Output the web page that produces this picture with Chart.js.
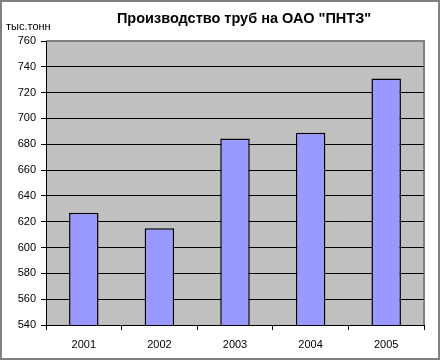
<!DOCTYPE html>
<html>
<head>
<meta charset="utf-8">
<script src="https://cdn.jsdelivr.net/npm/chart.js@4/dist/chart.umd.min.js"></script>
<style>
    html, body { margin: 0; padding: 0; background: #fff; }
    #wrap { position: relative; width: 441px; height: 361px; }
</style>
</head>
<body>
<div id="wrap"><canvas id="chart" width="441" height="361"></canvas></div>
<script>
const years = ['2001', '2002', '2003', '2004', '2005'];
const production = [627, 615, 684.5, 689, 731];
const yMin = 540;
const yMax = 760;
const yStep = 20;
const chartTitle = 'Производство труб на ОАО "ПНТЗ"';
const unitLabel = 'тыс.тонн';

// plot background, outer frame and titles (Excel-like look)
const excelFrame = {
    id: 'excelFrame',
    beforeDraw(chart) {
        const ctx = chart.ctx;
        const a = chart.chartArea;
        ctx.save();
        ctx.fillStyle = '#c0c0c0';
        ctx.fillRect(a.left, a.top, a.right - a.left, a.bottom - a.top);
        ctx.strokeStyle = '#808080';
        ctx.lineWidth = 2;
        ctx.beginPath();
        ctx.moveTo(a.left, a.top);
        ctx.lineTo(a.right, a.top);
        ctx.lineTo(a.right, a.bottom);
        ctx.stroke();
        ctx.restore();
    },
    afterDraw(chart) {
        const ctx = chart.ctx;
        ctx.save();
        ctx.strokeStyle = '#808080';
        ctx.lineWidth = 2;
        ctx.strokeRect(1, 1, 438, 358);
        ctx.fillStyle = '#000';
        ctx.textBaseline = 'middle';
        ctx.textAlign = 'center';
        ctx.font = 'bold 14.5px "Liberation Sans", Arial, sans-serif';
        ctx.fillText(chartTitle, 244, 19);
        ctx.textAlign = 'left';
        ctx.font = '11px "Liberation Sans", Arial, sans-serif';
        ctx.fillText(unitLabel, 6, 27);
        ctx.restore();
    }
};

new Chart(document.getElementById('chart'), {
    type: 'bar',
    data: {
        labels: years,
        datasets: [{
            data: production,
            backgroundColor: '#9999ff',
            borderColor: '#000',
            borderWidth: 1.5,
            borderSkipped: 'bottom',
            barPercentage: 0.39,
            categoryPercentage: 1
        }]
    },
    options: {
        responsive: false,
        animation: false,
        layout: { padding: { left: 0, right: 17, top: 41, bottom: 0 } },
        plugins: {
            legend: { display: false },
            tooltip: { enabled: false }
        },
        scales: {
            x: {
                afterFit: (s) => { s.height = 36; },
                border: { color: '#000', width: 1 },
                grid: { offset: true, drawOnChartArea: false, color: '#000', tickLength: 5 },
                ticks: {
                    color: '#000',
                    padding: 8,
                    font: { family: '"Liberation Sans", Arial, sans-serif', size: 11 }
                }
            },
            y: {
                min: yMin,
                max: yMax,
                afterFit: (s) => { s.width = 46; },
                border: { color: '#000', width: 1 },
                grid: {
                    color: (c) => c.tick && c.tick.value === yMax ? 'rgba(0,0,0,0)' : '#000',
                    tickColor: '#000',
                    tickLength: 5
                },
                ticks: {
                    stepSize: yStep,
                    color: '#000',
                    padding: 5,
                    font: { family: '"Liberation Sans", Arial, sans-serif', size: 11 }
                }
            }
        }
    },
    plugins: [excelFrame]
});
</script>
</body>
</html>
